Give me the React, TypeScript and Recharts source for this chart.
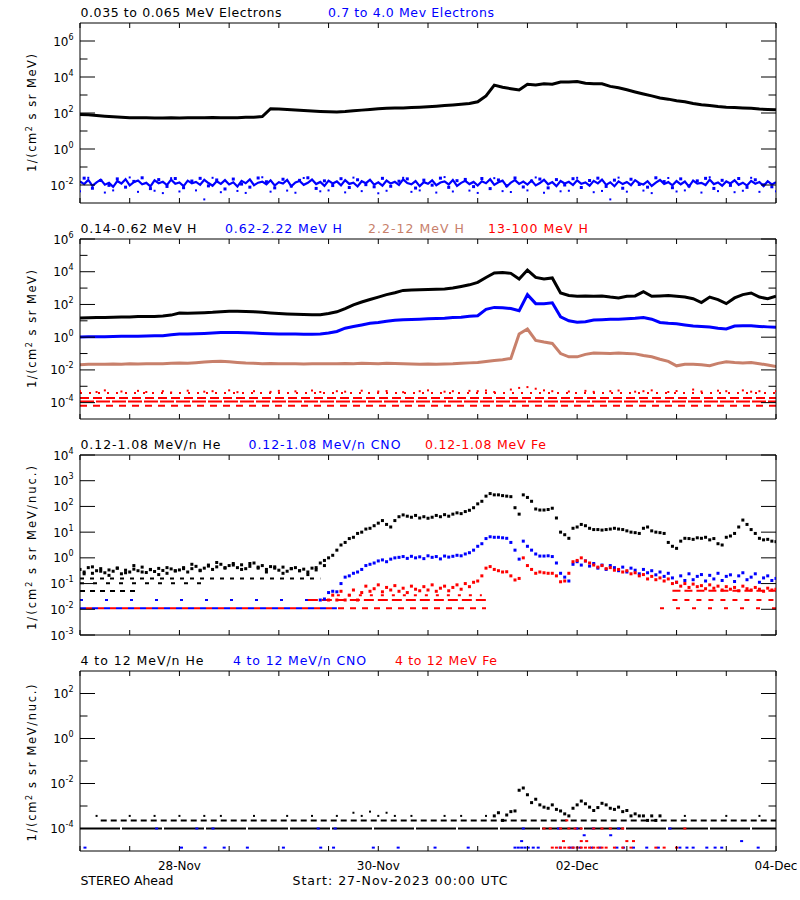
import React from 'react';
import { ComposedChart, Line, Scatter, XAxis, YAxis } from 'recharts';

const FONT = '"DejaVu Sans", "Liberation Sans", sans-serif';
const BLACK = '#000000';
const BLUE = '#0000ff';
const RED = '#ff0000';
const BROWN = '#c8806b';

// time axis: hours since 27-Nov-2023 00:00 UTC
const xTickHours = [0, 12, 24, 36, 48, 60, 72, 84, 96, 108, 120, 132, 144, 156, 168];
const xLabelHours = [24, 72, 120, 168];
const xLabelText = ['28-Nov', '30-Nov', '02-Dec', '04-Dec'];

// ---------- Panel 1 : electrons (log10 flux) ----------
// 0.035-0.065 MeV, every 2 h from h0
const e035Log = [
  1.92, 1.90, 1.86, 1.82, 1.79, 1.76, 1.74, 1.73, 1.73, 1.72, 1.72, 1.73,
  1.72, 1.73, 1.74, 1.74, 1.75, 1.74, 1.73, 1.74, 1.76, 1.77, 1.80, 2.24,
  2.22, 2.20, 2.17, 2.14, 2.11, 2.09, 2.07, 2.06, 2.08, 2.12, 2.16, 2.20,
  2.23, 2.26, 2.28, 2.28, 2.30, 2.32, 2.35, 2.38, 2.41, 2.44, 2.48, 2.53,
  2.62, 2.95, 3.55, 3.43, 3.35, 3.28, 3.60, 3.55, 3.62, 3.60, 3.72, 3.72,
  3.75, 3.65, 3.62, 3.62, 3.48, 3.40, 3.29, 3.17, 3.06, 2.95, 2.83, 2.77,
  2.68, 2.62, 2.53, 2.46, 2.42, 2.36, 2.32, 2.30, 2.28, 2.26, 2.22, 2.20,
  2.18,
];
// 0.7-4.0 MeV, hourly from h0
const e07Log = [
  -1.80, -1.95, -1.72, -2.05, -1.85, -1.70, -1.98, -1.88, -2.10, -1.78, -1.92, -1.68,
  -2.02, -1.84, -1.75, -1.96, -1.88, -2.08, -1.74, -1.90, -1.82, -2.00, -1.70, -1.93,
  -1.86, -2.06, -1.76, -1.91, -1.83, -1.99, -1.71, -1.89, -2.04, -1.79, -1.94, -1.73,
  -1.97, -1.85, -2.09, -1.77, -1.90, -1.69, -2.01, -1.87, -1.81, -1.96, -1.74, -2.03,
  -1.84, -1.92, -1.72, -2.07, -1.86, -1.78, -1.99, -1.88, -1.70, -1.95, -1.83, -2.05,
  -1.76, -1.91, -1.80, -2.02, -1.73, -1.94, -1.87, -2.08, -1.79, -1.90, -1.71, -1.98,
  -1.85, -2.04, -1.75, -1.92, -1.82, -2.00, -1.69, -1.89, -1.96, -1.78, -2.06, -1.84,
  -1.93, -1.74, -2.01, -1.86, -1.80, -1.97, -1.72, -2.05, -1.88, -1.77, -1.95, -1.83,
  -2.03, -1.79, -1.90, -1.68, -1.99, -1.85, -1.76, -2.08, -1.87, -1.73, -1.94, -1.81,
  -1.98, -1.75, -2.02, -1.89, -1.71, -1.96, -1.84, -2.06, -1.78, -1.92, -1.82, -2.00,
  -1.74, -1.93, -1.86, -2.04, -1.77, -1.91, -1.70, -1.99, -1.85, -2.07, -1.80, -1.95,
  -1.83, -2.01, -1.73, -1.90, -1.97, -1.79, -2.05, -1.87, -1.72, -1.94, -1.84, -2.02,
  -1.78, -1.96, -1.81, -2.09, -1.75, -1.92, -1.88, -2.00, -1.70, -1.95, -1.86, -2.04,
  -1.80, -1.91, -1.74, -1.99, -1.87, -2.03, -1.77, -1.93, -1.83, -2.06, -1.79, -1.97,
  -1.85,
];
// 0.7-4.0 MeV second sample set, every 2 h from h1
const e07bLog = [
  -1.62, -2.18, -1.75, -2.02, -1.66, -2.12, -1.80, -1.60, -2.20, -1.70, -2.08, -1.64,
  -2.15, -1.78, -1.63, -2.05, -1.72, -2.22, -1.67, -1.95, -2.12, -1.61, -1.82, -2.16,
  -1.68, -2.06, -1.74, -1.60, -2.19, -1.77, -2.03, -1.65, -2.14, -1.71, -1.98, -2.10,
  -1.63, -2.07, -1.79, -1.66, -2.17, -1.73, -2.01, -1.62, -2.13, -1.76, -1.69, -2.09,
  -1.64, -2.20, -1.72, -2.04, -1.61, -2.11, -1.78, -1.67, -2.16, -1.70, -2.00, -1.65,
  -2.14, -1.75, -1.62, -2.08, -1.73, -2.18, -1.68, -1.97, -2.12, -1.60, -1.81, -2.15,
  -1.66, -2.05, -1.77, -1.63, -2.19, -1.74, -2.02, -1.64, -2.13, -1.71, -1.99, -2.10,
];
// 0.7-4.0 MeV scattered outliers, every 2 h
const e07OutLog = [
  -2.35, -1.60, null, -2.42, -2.30, null, -1.58, -2.38, null, -2.32, -2.45, -1.62,
  -2.36, null, -2.30, -2.80, -1.60, -2.40, null, -2.33, -2.44, null, -1.57, -2.37,
  null, -2.31, -2.43, -1.61, null, -2.35, -2.30, null, -2.41, -1.59, -2.34, null,
  -2.46, -2.32, null, -1.60, -2.38, -2.30, null, -2.42, -1.56, -2.36, null, -2.31,
  -2.44, null, -1.62, -2.34, -2.39, null, -2.30, -1.58, -2.43, null, -2.35, -2.32,
  -1.60, null, -2.40, -2.33, -2.80, -1.59, -2.37, null, -2.31, -2.45, null, -1.61,
  -2.36, -2.30, null, -2.42, -1.57, -2.34, null, -2.40, -2.32, -1.60, -2.38, null,
  -2.35,
];

// ---------- Panel 2 : protons (log10 flux), every 2 h ----------
const h014Log = [
  1.17, 1.18, 1.20, 1.20, 1.22, 1.24, 1.24, 1.26, 1.26, 1.27, 1.29, 1.35,
  1.48, 1.47, 1.48, 1.50, 1.52, 1.56, 1.58, 1.58, 1.57, 1.55, 1.52, 1.48,
  1.45, 1.42, 1.40, 1.38, 1.37, 1.37, 1.45, 1.55, 1.75, 1.98, 2.15, 2.30,
  2.45, 2.60, 2.72, 2.86, 2.88, 2.90, 2.92, 2.93, 2.95, 3.00, 3.10, 3.20,
  3.35, 3.65, 3.92, 3.95, 3.90, 3.55, 4.10, 3.65, 3.55, 3.62, 2.70, 2.55,
  2.50, 2.52, 2.50, 2.52, 2.45, 2.40, 2.50, 2.52, 2.78, 2.50, 2.52, 2.55,
  2.50, 2.45, 2.35, 2.12, 2.45, 2.30, 2.05, 2.40, 2.60, 2.70, 2.45, 2.35,
  2.50,
];
const h062Log = [
  0.01, 0.02, 0.03, 0.03, 0.04, 0.05, 0.05, 0.06, 0.07, 0.08, 0.09, 0.15,
  0.19, 0.20, 0.21, 0.23, 0.26, 0.29, 0.29, 0.28, 0.27, 0.25, 0.23, 0.21,
  0.20, 0.19, 0.19, 0.18, 0.18, 0.19, 0.25, 0.35, 0.55, 0.65, 0.75, 0.85,
  0.90, 0.97, 1.03, 1.07, 1.08, 1.10, 1.12, 1.14, 1.16, 1.20, 1.22, 1.28,
  1.31, 1.70, 1.82, 1.80, 1.75, 1.62, 2.60, 2.05, 2.05, 2.10, 1.25, 1.00,
  0.92, 0.95, 1.05, 1.07, 1.10, 1.10, 1.12, 1.15, 1.20, 1.10, 0.90, 0.85,
  0.82, 0.75, 0.68, 0.65, 0.62, 0.55, 0.50, 0.68, 0.70, 0.70, 0.66, 0.63,
  0.60,
];
const h22Log = [
  -1.68, -1.66, -1.65, -1.66, -1.64, -1.65, -1.63, -1.64, -1.62, -1.63, -1.62, -1.60,
  -1.58, -1.60, -1.56, -1.52, -1.48, -1.47, -1.50, -1.54, -1.58, -1.60, -1.62, -1.61,
  -1.62, -1.63, -1.62, -1.64, -1.63, -1.62, -1.63, -1.62, -1.61, -1.62, -1.60, -1.61,
  -1.62, -1.60, -1.61, -1.63, -1.64, -1.65, -1.64, -1.65, -1.64, -1.63, -1.60, -1.57,
  -1.55, -1.48, -1.42, -1.38, -1.30, 0.20, 0.50, -0.20, -0.30, -0.38, -1.00, -1.20,
  -1.20, -1.05, -0.97, -0.98, -1.00, -0.97, -1.00, -1.02, -1.12, -1.20, -1.35, -1.48,
  -1.75, -1.65, -1.65, -1.68, -1.74, -1.60, -1.50, -1.55, -1.58, -1.55, -1.62, -1.70,
  -1.80,
];
// 13-100 MeV: quantized count rows [start h, end h, log10 level]
const h13Rows = [
  [0, 168, -3.41],
  [0, 168, -3.72],
  [0, 168, -3.93],
  [0, 168, -4.19],
];
// 13-100 MeV scattered points above the rows, every 2 h
const h13NoiseLog = [
  -3.30, null, -3.35, -3.25, null, -3.32, null, -3.28, -3.35, null, -3.30, -3.38,
  null, -3.27, null, -3.33, -3.30, null, -3.25, -3.36, null, -3.30, null, -3.34,
  -3.28, null, -3.31, null, -3.26, -3.35, null, -3.30, -3.33, null, -3.27, null,
  -3.32, -3.29, null, -3.36, null, -3.30, -3.25, null, -3.33, -3.30, null, -3.28,
  -3.30, -3.26, -3.35, null, -3.20, -3.10, -3.05, -3.15, -3.25, -3.30, null, -3.32,
  null, -3.28, -3.34, null, -3.30, -3.26, null, -3.33, -3.30, -3.25, null, -3.35,
  -3.29, null, -3.20, -3.32, null, -3.27, -3.30, null, -3.25, -3.33, -3.30, null,
  -3.30,
];

// ---------- Panel 3 : 0.12-1.08 MeV/n heavy ions (log10 flux), hourly ----------
const he012Log = [
  -0.45, -0.55, -0.38, -0.60, -0.50, -0.42, -0.58, -0.47, -0.52, -0.40, -0.62, -0.48,
  -0.55, -0.44, -0.50, -0.36, -0.57, -0.46, -0.53, -0.41, -0.49, -0.60, -0.43, -0.51,
  -0.47, -0.38, -0.55, -0.42, -0.33, -0.50, -0.40, -0.28, -0.45, -0.35, -0.25, -0.40,
  -0.30, -0.22, -0.38, -0.27, -0.42, -0.33, -0.20, -0.36, -0.30, -0.45, -0.34, -0.40,
  -0.48, -0.36, -0.52, -0.42, -0.38, -0.50, -0.44, -0.55, -0.40, -0.47, -0.20, -0.10,
  0.00, 0.10, 0.30, 0.50, 0.60, 0.75, 0.80, 0.95, 1.00, 1.12, 1.15, 1.25,
  1.35, 1.45, 1.30, 1.20, 1.45, 1.60, 1.67, 1.62, 1.58, 1.65, 1.55, 1.60,
  1.54, 1.58, 1.65, 1.60, 1.68, 1.62, 1.70, 1.75, 1.72, 1.80, 1.85, 1.95,
  2.10, 2.20, 2.40, 2.50, 2.45, 2.45, 2.42, 2.40, 2.38, 1.95, 1.70, 2.45,
  2.35, 2.20, 1.90, 1.86, 1.86, 1.88, 1.93, 1.55, 1.00, 0.90, 0.76, 1.15,
  1.20, 1.30, 1.25, 1.15, 1.10, 1.10, 1.08, 1.10, 1.12, 1.15, 1.12, 1.10,
  1.05, 1.00, 0.98, 0.95, 1.15, 1.20, 1.05, 1.00, 0.98, 0.95, 0.60, 0.45,
  0.37, 0.65, 0.76, 0.75, 0.72, 0.78, 0.76, 0.80, 0.70, 0.75, 0.55, 0.50,
  0.80, 0.85, 0.95, 1.20, 1.47, 1.30, 1.10, 0.95, 0.76, 0.70, 0.72, 0.65,
  0.63,
];
// He second sample set in the quiet period, every 2 h from h1
const he012bLog = [
  -0.62, -0.35, -0.52, -0.68, -0.40, -0.58, -0.30, -0.55, -0.45, -0.65, -0.38, -0.50,
  -0.42, -0.25, -0.48, -0.32, -0.18, -0.38, -0.28, -0.45, -0.22, -0.40, -0.55, -0.35,
  -0.60, -0.42, -0.50, -0.65, -0.38, -0.30,
];
// CNO hourly from h58
const cno012Log = [
  -1.64, -1.60, -1.35, -1.30, -1.32, -1.00, -0.75, -0.70, -0.60, -0.55, -0.45, -0.30,
  -0.25, -0.20, -0.12, -0.08, -0.15, -0.05, 0.00, 0.02, 0.05, -0.02, 0.06, 0.00,
  0.04, -0.03, 0.08, 0.02, 0.05, -0.04, 0.07, 0.03, 0.06, 0.10, 0.08, 0.15,
  0.20, 0.30, 0.45, 0.55, 0.75, 0.82, 0.80, 0.80, 0.78, 0.76, 0.60, 0.30,
  -0.05, 0.65, 0.45, 0.30, 0.15, 0.07, 0.07, 0.08, 0.05, -0.20, -0.60, -0.75,
  -0.90, -0.25, -0.15, -0.28, -0.12, -0.32, -0.22, -0.40, -0.28, -0.45, -0.30, -0.38,
  -0.50, -0.36, -0.55, -0.40, -0.48, -0.62, -0.45, -0.58, -0.50, -0.66, -0.55, -0.72,
  -0.60, -0.78, -0.95, -0.70, -0.88, -0.62, -0.85, -0.72, -0.65, -0.90, -0.68, -0.82,
  -0.60, -0.88, -0.72, -0.66, -0.92, -0.70, -0.58, -0.85, -0.75, -0.62, -0.95, -0.78,
  -0.70, -0.88, -0.80,
];
// Fe hourly from h60
const fe012Log = [
  -1.64, -1.45, -1.64, -1.30, -1.64, -1.45, -1.25, -1.64, -1.35, -1.10, -1.30, -1.20,
  -1.05, -1.32, -1.15, -1.25, -1.08, -1.30, -1.18, -1.35, -1.10, -1.22, -1.28, -1.12,
  -1.25, -1.05, -1.30, -1.18, -1.10, -1.28, -1.15, -1.05, -1.22, -1.00, -1.12, -0.95,
  -0.90, -0.70, -0.40, -0.34, -0.45, -0.50, -0.55, -0.54, -0.70, -0.86, -0.80, 0.00,
  -0.30, -0.45, -0.60, -0.55, -0.58, -0.60, -0.60, -0.70, -0.93, -0.90, -0.60, -0.15,
  -0.10, 0.00, -0.12, -0.20, -0.28, -0.36, -0.30, -0.42, -0.38, -0.48, -0.45, -0.55,
  -0.50, -0.62, -0.58, -0.70, -0.65, -0.82, -0.72, -0.85, -0.78, -0.90, -0.82, -1.00,
  -0.95, -1.10, -1.00, -1.15, -1.02, -1.12, -1.08, -1.20, -1.05, -1.18, -1.10, -1.25,
  -1.12, -1.22, -1.15, -1.28, -1.10, -1.20, -1.25, -1.15, -1.22, -1.30, -1.18, -1.25,
  -1.22,
];
const he012Rows = [[0, 58, -0.80], [0, 30, -0.99], [0, 14, -1.29]];
const cno012Rows = [[0, 62, -1.96], [0, 58, -1.64]];
const fe012Rows = [[0, 98, -1.96], [140, 168, -1.96], [55, 98, -1.64], [62, 97, -1.45], [143, 168, -1.64], [143, 168, -1.28]];

// ---------- Panel 4 : 4-12 MeV/n heavy ions ----------
const he4Rows = [[0, 168, -4.0], [5, 168, -3.64]];
// He sparse points, every 2 h
const he4NoiseLog = [
  null, null, -3.44, null, null, null, -3.44, null, null, -3.44, null, null,
  -3.44, null, null, -3.44, null, -3.44, null, null, null, -3.44, null, null,
  null, -3.44, null, null, -3.44, null, null, -3.44, null, -3.30, -3.44, -3.25,
  -3.44, -3.30, -3.44, null, -3.44, null, null, null, -3.44, null, -3.44, null,
  null, -3.44, null, null, null, null, null, null, null, null, null, null,
  null, null, null, null, null, null, null, null, null, null, -3.44, null,
  null, -3.44, null, null, null, null, -3.44, null, null, null, -3.44, null,
  null,
];
// He event, hourly from h100
const he4EventLog = [
  -3.44, -3.30, -3.64, -3.40, -3.25, -3.22, -2.30, -2.20, -2.50, -2.85, -2.70, -2.95,
  -3.05, -3.10, -2.95, -3.15, -3.22, -3.35, -3.44, -3.10, -2.95, -2.78, -2.90, -3.05,
  -3.20, -3.07, -2.88, -2.95, -3.10, -3.15, -3.05, -3.25, -3.20, -3.44, -3.35, -3.44,
  -3.44, -3.64, -3.44, -3.64, -3.44,
];
const cno4Hours = [
  1.2, 24.5, 30.2, 34.8, 40.4, 49.1, 58.1, 61.2, 70.8, 76.8, 85.7, 93.7,
  105, 105.8, 106.6, 107.4, 108.2, 109.4, 110.6, 115.9, 118.3, 119, 120.7, 123.5,
  125.5, 129.6, 131.2, 133.6, 136.8, 139.6, 144.8, 146.5, 148, 151.3, 153.3, 154.9,
  163.7, 106.6, 159.7, 121.7, 128.1, 107, 115.5, 119.9, 123.9, 130, 142.4, 18.5,
  28.2, 32.1, 57.5, 61.6,
];
const cno4Log = [
  -4.85, -4.85, -4.85, -4.85, -4.85, -4.85, -4.85, -4.85, -4.85, -4.85, -4.85, -4.85,
  -4.85, -4.85, -4.85, -4.85, -4.85, -4.85, -4.85, -4.85, -4.85, -4.85, -4.85, -4.85,
  -4.85, -4.85, -4.85, -4.85, -4.85, -4.85, -4.85, -4.85, -4.85, -4.85, -4.85, -4.85,
  -4.85, -4.56, -4.56, -4.30, -4.30, -4.0, -4.0, -4.0, -4.0, -4.0, -4.0, -4.0,
  -4.0, -4.0, -4.0, -4.0,
];
const fe4Hours = [
  114, 115, 116, 117, 118, 119, 120, 121, 122, 123, 124, 125,
  126, 127, 129, 131, 133, 139, 141, 144, 112, 113.5, 116, 118,
  119.5, 121, 124, 126, 128, 131, 146, 116.7, 121, 122.3, 132, 133.6,
  117.5,
];
const fe4Log = [
  -4.85, -4.85, -4.85, -4.85, -4.85, -4.85, -4.85, -4.85, -4.85, -4.85, -4.85, -4.85,
  -4.85, -4.85, -4.85, -4.85, -4.85, -4.85, -4.85, -4.85, -4.0, -4.0, -4.0, -4.0,
  -4.0, -4.0, -4.0, -4.0, -4.0, -4.0, -4.0, -4.56, -4.56, -4.56, -4.56, -4.56,
  -3.64,
];

// ---------- helpers building the tables Recharts needs ----------
type Pt = { t: number; v: number };
const series = (vals: (number | null)[], t0: number, step: number): Pt[] => {
  const out: Pt[] = [];
  vals.forEach((lv, i) => {
    if (lv !== null) out.push({ t: t0 + i * step, v: Math.pow(10, lv) });
  });
  return out;
};
const pairs = (ts: number[], lvs: number[]): Pt[] => ts.map((t, i) => ({ t, v: Math.pow(10, lvs[i]) }));
const rowPts = (r: number[]): Pt[] => [
  { t: r[0], v: Math.pow(10, r[2]) },
  { t: r[1], v: Math.pow(10, r[2]) },
];

const sq = (color: string, w: number, h: number) => (p: any) => (
  <rect x={p.cx - w / 2} y={p.cy - h / 2} width={w} height={h} fill={color} />
);

// ---------- axis ticks ----------
function LeftTick(props: any) {
  const { x, y, payload, every } = props;
  const e = Math.round(Math.log10(payload.value));
  const lab = e % every === 0;
  return (
    <g>
      <line x1={x} y1={y} x2={x + (lab ? 15 : 7.5)} y2={y} stroke="#000" strokeWidth={1} />
      {lab && (
        <text x={x - 6.5} y={y + 4.5} textAnchor="end" fontFamily={FONT} fontSize={12} fill="#000">
          10<tspan dy={-6} fontSize={8}>{String(e)}</tspan>
        </text>
      )}
    </g>
  );
}
function RightTick(props: any) {
  const { x, y, payload, every } = props;
  const e = Math.round(Math.log10(payload.value));
  const lab = e % every === 0;
  return <line x1={x} y1={y} x2={x - (lab ? 15 : 7.5)} y2={y} stroke="#000" strokeWidth={1} />;
}
function TopTick(props: any) {
  const { x, y } = props;
  return <line x1={x} y1={y} x2={x} y2={y + 5} stroke="#000" strokeWidth={1} />;
}
function BottomTick(props: any) {
  const { x, y, payload, showLabels } = props;
  const idx = xLabelHours.indexOf(payload.value);
  return (
    <g>
      <line x1={x} y1={y} x2={x} y2={y - 5} stroke="#000" strokeWidth={1} />
      {showLabels && idx >= 0 && (
        <text x={x} y={y + 19} textAnchor="middle" fontFamily={FONT} fontSize={12} fill="#000">
          {xLabelText[idx]}
        </text>
      )}
    </g>
  );
}

function Panel(props: any) {
  const { top, domain, ticks, every, showLabels, children } = props;
  const bottomH = showLabels ? 46 : 1;
  const extra = showLabels ? 0 : 10;
  return (
    <div style={{ position: 'absolute', left: 0, top }}>
      <ComposedChart width={800} height={23 + 180 + bottomH + extra} margin={{ top: 22, right: 23, bottom: extra, left: 0 }}>
        <XAxis
          xAxisId="b" type="number" dataKey="t" domain={[0, 168]} ticks={xTickHours} allowDataOverflow
          orientation="bottom" height={bottomH} tickSize={0} tickMargin={0} tickLine={false} interval={0}
          axisLine={{ stroke: '#000', strokeWidth: 1 }}
          tick={(p: any) => <BottomTick {...p} showLabels={showLabels} />}
        />
        <XAxis
          xAxisId="t" type="number" dataKey="t" domain={[0, 168]} ticks={xTickHours} allowDataOverflow
          orientation="top" height={1} tickSize={0} tickMargin={0} tickLine={false} interval={0}
          axisLine={{ stroke: '#000', strokeWidth: 1 }}
          tick={(p: any) => <TopTick {...p} />}
        />
        <YAxis
          yAxisId="l" type="number" dataKey="v" scale="log" domain={domain} ticks={ticks} allowDataOverflow
          orientation="left" width={80} tickSize={0} tickMargin={0} tickLine={false} interval={0}
          axisLine={{ stroke: '#000', strokeWidth: 1 }}
          tick={(p: any) => <LeftTick {...p} every={every} />}
        />
        <YAxis
          yAxisId="r" type="number" scale="log" domain={domain} ticks={ticks} allowDataOverflow
          orientation="right" width={1} tickSize={0} tickMargin={0} tickLine={false} interval={0}
          axisLine={{ stroke: '#000', strokeWidth: 1 }}
          tick={(p: any) => <RightTick {...p} every={every} />}
        />
        {children}
      </ComposedChart>
    </div>
  );
}

const ax = { xAxisId: 'b', yAxisId: 'l', isAnimationActive: false } as any;

function Title({ x, y, color, text, w }: any) {
  return (
    <text x={x} y={y} fill={color} fontFamily={FONT} fontSize={12.5} textLength={w} lengthAdjust="spacing">
      {text}
    </text>
  );
}
function YLabel({ cy, text, w }: any) {
  return (
    <text transform={`translate(36, ${cy}) rotate(-90)`} textAnchor="middle" fontFamily={FONT} fontSize={11.5} fill="#000" textLength={w} lengthAdjust="spacing">
      1/(cm<tspan dy={-4} fontSize={8}>2</tspan><tspan dy={4}>{text}</tspan>
    </text>
  );
}

export default function App() {
  const p2RowDash = ['2 7', '9 4', '14 2', '7 6'];
  return (
    <div style={{ position: 'absolute', left: 0, top: 0, width: 800, height: 900, background: '#fff' }}>
      {/* Panel 1 */}
      <Panel top={0} domain={[1e-3, 1e7]} ticks={[1e-2, 1e-1, 1, 1e1, 1e2, 1e3, 1e4, 1e5, 1e6]} every={2}>
        <Line {...ax} data={series(e07Log, 0, 1)} dataKey="v" stroke={BLUE} strokeWidth={2.2} dot={false} />
        <Scatter {...ax} data={series(e07bLog, 1, 2)} dataKey="v" fill={BLUE} shape={sq(BLUE, 3, 3)} />
        <Scatter {...ax} data={series(e07OutLog, 0, 2)} dataKey="v" fill={BLUE} shape={sq(BLUE, 2, 2)} />
        <Line {...ax} data={series(e035Log, 0, 2)} dataKey="v" stroke={BLACK} strokeWidth={3} dot={false} />
      </Panel>

      {/* Panel 2 */}
      <Panel top={216} domain={[1e-5, 1e6]} ticks={[1e-4, 1e-3, 1e-2, 1e-1, 1, 1e1, 1e2, 1e3, 1e4, 1e5, 1e6]} every={2}>
        {h13Rows.map((r, i) => (
          <Line key={'r' + i} {...ax} data={rowPts(r)} dataKey="v" stroke={RED} strokeWidth={2} strokeDasharray={p2RowDash[i]} dot={false} />
        ))}
        <Scatter {...ax} data={series(h13NoiseLog, 0, 2)} dataKey="v" fill={RED} shape={sq(RED, 2, 2)} />
        <Line {...ax} data={series(h22Log, 0, 2)} dataKey="v" stroke={BROWN} strokeWidth={3} dot={false} />
        <Line {...ax} data={series(h062Log, 0, 2)} dataKey="v" stroke={BLUE} strokeWidth={3} dot={false} />
        <Line {...ax} data={series(h014Log, 0, 2)} dataKey="v" stroke={BLACK} strokeWidth={3} dot={false} />
      </Panel>

      {/* Panel 3 */}
      <Panel top={432} domain={[1e-3, 1e4]} ticks={[1e-3, 1e-2, 1e-1, 1, 1e1, 1e2, 1e3, 1e4]} every={1}>
        {he012Rows.map((r, i) => (
          <Line key={'h' + i} {...ax} data={rowPts(r)} dataKey="v" stroke={BLACK} strokeWidth={2} strokeDasharray={['4 6', '4 9', '5 5'][i]} dot={false} />
        ))}
        {cno012Rows.map((r, i) => (
          <Line key={'c' + i} {...ax} data={rowPts(r)} dataKey="v" stroke={BLUE} strokeWidth={2} strokeDasharray={['6 6', '3 22'][i]} dot={false} />
        ))}
        {fe012Rows.map((r, i) => (
          <Line key={'f' + i} {...ax} data={rowPts(r)} dataKey="v" stroke={RED} strokeWidth={2}
            strokeDasharray={['6 6', '4 12', '10 4', '3 8', '5 7', '8 4'][i]} strokeDashoffset={i === 0 ? 6 : 0} dot={false} />
        ))}
        <Scatter {...ax} data={series(he012Log, 0, 1)} dataKey="v" fill={BLACK} shape={sq(BLACK, 3, 3)} />
        <Scatter {...ax} data={series(he012bLog, 1, 2)} dataKey="v" fill={BLACK} shape={sq(BLACK, 3, 3)} />
        <Scatter {...ax} data={series(cno012Log, 58, 1)} dataKey="v" fill={BLUE} shape={sq(BLUE, 3, 3)} />
        <Scatter {...ax} data={series(fe012Log, 60, 1)} dataKey="v" fill={RED} shape={sq(RED, 3, 3)} />
      </Panel>

      {/* Panel 4 */}
      <Panel top={648} domain={[1e-5, 1e3]} ticks={[1e-4, 1e-3, 1e-2, 1e-1, 1, 1e1, 1e2]} every={2} showLabels>
        {he4Rows.map((r, i) => (
          <Line key={'h4' + i} {...ax} data={rowPts(r)} dataKey="v" stroke={BLACK} strokeWidth={2} strokeDasharray={['40 2', '6 4'][i]} dot={false} />
        ))}
        <Scatter {...ax} data={series(he4NoiseLog, 0, 2)} dataKey="v" fill={BLACK} shape={sq(BLACK, 2, 2)} />
        <Scatter {...ax} data={series(he4EventLog, 100, 1)} dataKey="v" fill={BLACK} shape={sq(BLACK, 3, 3)} />
        <Scatter {...ax} data={pairs(cno4Hours, cno4Log)} dataKey="v" fill={BLUE} shape={sq(BLUE, 3, 2)} />
        <Scatter {...ax} data={pairs(fe4Hours, fe4Log)} dataKey="v" fill={RED} shape={sq(RED, 3, 2)} />
      </Panel>

      <svg width={800} height={900} style={{ position: 'absolute', left: 0, top: 0, pointerEvents: 'none' }}>
        <Title x={80.5} y={17} color={BLACK} text="0.035 to 0.065 MeV Electrons" w={201} />
        <Title x={328} y={17} color={BLUE} text="0.7 to 4.0 Mev Electrons" w={166} />

        <Title x={80.5} y={233} color={BLACK} text="0.14-0.62 MeV H" w={116} />
        <Title x={225} y={233} color={BLUE} text="0.62-2.22 MeV H" w={117} />
        <Title x={368} y={233} color={BROWN} text="2.2-12 MeV H" w={96} />
        <Title x={488} y={233} color={RED} text="13-100 MeV H" w={100} />

        <Title x={80.5} y={449} color={BLACK} text="0.12-1.08 MeV/n He" w={140} />
        <Title x={248.5} y={449} color={BLUE} text="0.12-1.08 MeV/n CNO" w={152} />
        <Title x={425} y={449} color={RED} text="0.12-1.08 MeV Fe" w={121} />

        <Title x={80.5} y={665} color={BLACK} text="4 to 12 MeV/n He" w={123} />
        <Title x={233} y={665} color={BLUE} text="4 to 12 MeV/n CNO" w={133} />
        <Title x={395} y={665} color={RED} text="4 to 12 MeV Fe" w={102} />

        <YLabel cy={113} text=" s sr MeV)" w={118} />
        <YLabel cy={329} text=" s sr MeV)" w={118} />
        <YLabel cy={548} text=" s sr MeV/nuc.)" w={164} />
        <YLabel cy={763} text=" s sr MeV/nuc.)" w={157} />

        <text x={80.5} y={885} fontFamily={FONT} fontSize={12.5} fill="#000" textLength={93} lengthAdjust="spacing">STEREO Ahead</text>
        <text x={292.5} y={885} fontFamily={FONT} fontSize={12.5} fill="#000" textLength={215} lengthAdjust="spacing">Start: 27-Nov-2023 00:00 UTC</text>
      </svg>
    </div>
  );
}
